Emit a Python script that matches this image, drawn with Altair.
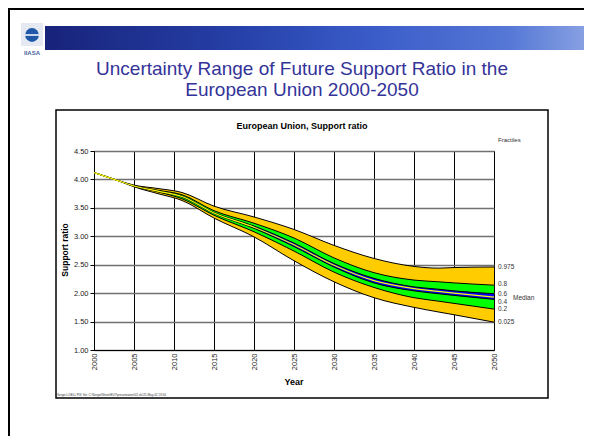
import altair as alt
import pandas as pd

years = [2000, 2003, 2005, 2008, 2011, 2015, 2020, 2025, 2030, 2035, 2040, 2043, 2045, 2050]
p025 = [4.12, 3.98, 3.87, 3.75, 3.63, 3.32, 2.99, 2.57, 2.20, 1.92, 1.75, 1.67, 1.62, 1.49]
p20 = [4.12, 3.98, 3.88, 3.78, 3.66, 3.37, 3.08, 2.74, 2.37, 2.10, 1.92, 1.86, 1.82, 1.72]
p40 = [4.12, 3.98, 3.883, 3.79, 3.69, 3.40, 3.14, 2.82, 2.46, 2.18, 2.04, 1.99, 1.96, 1.89]
p50 = [4.12, 3.98, 3.885, 3.795, 3.70, 3.41, 3.16, 2.85, 2.49, 2.22, 2.08, 2.03, 2.00, 1.93]
p60 = [4.12, 3.98, 3.887, 3.80, 3.71, 3.42, 3.18, 2.88, 2.52, 2.26, 2.11, 2.07, 2.04, 1.99]
p80 = [4.12, 3.98, 3.89, 3.81, 3.73, 3.45, 3.23, 2.97, 2.62, 2.36, 2.23, 2.20, 2.18, 2.14]
p975 = [4.12, 3.98, 3.90, 3.84, 3.77, 3.53, 3.34, 3.12, 2.84, 2.61, 2.47, 2.44, 2.45, 2.46]

x_ticks = [2000, 2005, 2010, 2015, 2020, 2025, 2030, 2035, 2040, 2045, 2050]
y_ticks = [1.0, 1.5, 2.0, 2.5, 3.0, 3.5, 4.0, 4.5]

frac_labels = ["0.975", "0.8", "0.6", "0.4", "0.2", "0.025"]
frac_label_y = [2.46, 2.16, 1.985, 1.85, 1.72, 1.49]

title_lines = ["Uncertainty Range of Future Support Ratio in the", "European Union 2000-2050"]
chart_title = "European Union, Support ratio"
y_title = "Support ratio"
x_title = "Year"
footer = "Sergei's DELL PIII; file: C:\\Sergei\\Sheet\\EU7\\presentation\\02.xls\\21-May-02   13:56"

FONT = "Liberation Sans"
INTERP = "monotone"

df = pd.DataFrame({"year": years, "p025": p025, "p20": p20, "p40": p40, "p50": p50,
                   "p60": p60, "p80": p80, "p975": p975})
lab_df = pd.DataFrame({"label": frac_labels, "yv": frac_label_y})

# plot area origin in page coords: (94,151); svg origin at (8,8)
OX, OY = 94, 151


def px(v):
    return v - OX


def py(v):
    return v - OY


xs = alt.X("year:Q", scale=alt.Scale(domain=[2000, 2050], nice=False, zero=False),
           axis=alt.Axis(values=x_ticks, format="d", labelAngle=270, title=None, grid=True,
                         gridColor="black", gridWidth=1, tickSize=0, labelPadding=3,
                         labelFontSize=7.5, labelColor="#222", domainColor="black",
                         labelFont=FONT))


def ys(field):
    return alt.Y(field, scale=alt.Scale(domain=[1, 4.5], nice=False, zero=False),
                 axis=alt.Axis(values=y_ticks, format=".2f", title=None, grid=True,
                               gridColor="#707070", gridWidth=1.5, tickSize=4, tickColor="black",
                               labelPadding=2, labelFontSize=7.5, labelColor="#222",
                               domainColor="black", labelFont=FONT))


one = alt.Data(values=[{"a": 1}])


def txt(s, x, y, size, bold=False, color="black", align="center", angle=0):
    kw = dict(text=s, fontSize=size, font=FONT, color=color, align=align, baseline="middle",
              fontWeight="bold" if bold else "normal")
    if angle:
        kw["angle"] = angle
    return alt.Chart(one).mark_text(**kw).encode(x=alt.value(x), y=alt.value(y))


def rect(x1, x2, y1, y2, **kw):
    return alt.Chart(one).mark_rect(**kw).encode(x=alt.value(x1), x2=alt.value(x2),
                                                  y=alt.value(y1), y2=alt.value(y2))


banner_grad = alt.Gradient(gradient="linear", x1=0, x2=1, y1=0, y2=0, stops=[
    alt.GradientStop(color="#18237a", offset=0),
    alt.GradientStop(color="#2640a8", offset=0.35),
    alt.GradientStop(color="#3a5cc8", offset=0.6),
    alt.GradientStop(color="#5577d6", offset=0.85),
    alt.GradientStop(color="#8aa3e3", offset=1)])

decor = [
    rect(px(8), px(10), py(8), py(440), color="black"),
    rect(px(8), px(592), py(8), py(10), color="black"),
    rect(px(45), px(590), py(26), py(50), color=banner_grad),
    rect(px(21), px(43), py(23), py(46), color="#e4e9f2"),
    alt.Chart(one).mark_point(filled=True, size=190, color="#1f58a8", opacity=1).encode(
        x=alt.value(px(32)), y=alt.value(py(35))),
    alt.Chart(one).mark_rule(color="white", strokeWidth=1.5).encode(
        x=alt.value(px(25)), x2=alt.value(px(39)), y=alt.value(py(35))),
    txt("IIASA", px(32), py(53), 6, bold=True, color="#4b5d9c"),
    txt(title_lines[0], px(302), py(69), 19, color="#333399"),
    txt(title_lines[1], px(302), py(90), 19, color="#333399"),
    rect(px(56), px(548), py(110), py(398), fillOpacity=0, stroke="black", strokeWidth=1.5),
    txt(chart_title, px(302), py(126), 9, bold=True),
    txt("Fractiles", px(498), py(140), 6, color="#333", align="left"),
    txt(y_title, px(65), py(250), 8.5, bold=True, angle=270),
    txt(x_title, px(294), py(382), 9, bold=True),
    txt(footer, px(57), py(395), 3, color="#333", align="left"),
    txt("Median", px(513), py(298), 6.5, color="#333", align="left"),
]

base = alt.Chart(df)
orange = base.mark_area(color="#FFCC00", interpolate=INTERP, opacity=1).encode(
    x=xs, y=ys("p025:Q"), y2="p975:Q")
green = base.mark_area(color="#00FF00", interpolate=INTERP, opacity=1).encode(
    x=xs, y=ys("p20:Q"), y2="p80:Q")
blue = base.mark_area(color="#0000FF", interpolate=INTERP, opacity=1).encode(
    x=xs, y=ys("p40:Q"), y2="p60:Q")
edges = base.transform_fold(["p025", "p20", "p40", "p60", "p80", "p975"],
                            as_=["frac", "val"]).mark_line(
    color="black", strokeWidth=1, interpolate=INTERP).encode(
    x=xs, y=ys("val:Q"), detail="frac:N")
median = base.mark_line(color="#FFFF00", strokeWidth=1.2, interpolate=INTERP).encode(
    x=xs, y=ys("p50:Q"))
labels = alt.Chart(lab_df).mark_text(align="left", baseline="middle", fontSize=6.5,
                                     font=FONT, color="#333").encode(
    x=alt.value(px(498)), y=ys("yv:Q"), text="label:N")

chart = alt.layer(*decor, orange, green, blue, edges, median, labels).properties(
    width=400, height=199,
    padding={"left": 86, "top": 143, "right": 90, "bottom": 86},
    autosize=alt.AutoSizeParams(type="none"),
).configure_view(stroke="black", strokeWidth=1)

chart.save("out.html", embed_options={"renderer": "svg", "actions": False})
